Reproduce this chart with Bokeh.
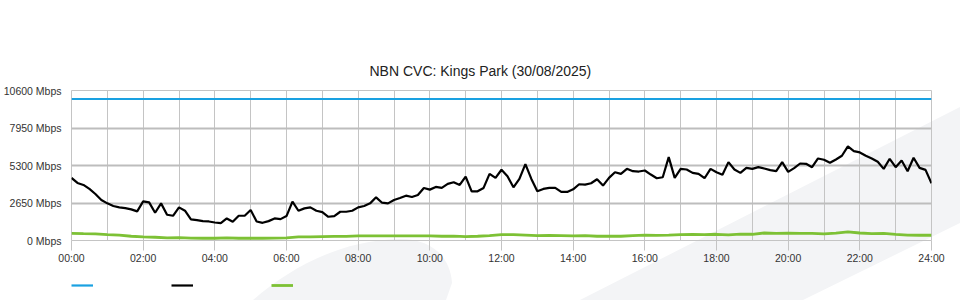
import numpy as np
from urllib.parse import quote
from bokeh.plotting import figure
from bokeh.layouts import column
from bokeh.models import Range1d, FixedTicker, Legend, LegendItem
from bokeh.embed import file_html
from bokeh.resources import INLINE

# ---------------- data ----------------
title_text = "NBN CVC: Kings Park (30/08/2025)"

x_tick_hours = [0, 2, 4, 6, 8, 10, 12, 14, 16, 18, 20, 22, 24]
x_tick_labels = ["00:00", "02:00", "04:00", "06:00", "08:00", "10:00", "12:00",
                 "14:00", "16:00", "18:00", "20:00", "22:00", "24:00"]
y_ticks = [0, 2650, 5300, 7950, 10600]
y_tick_labels = ["0 Mbps", "2650 Mbps", "5300 Mbps", "7950 Mbps", "10600 Mbps"]

# capacity (blue), Mbps
capacity_hours = [0, 24]
capacity_mbps = [10000, 10000]

# download (black), Mbps, every 10 minutes from 00:00 to 24:00
download_mbps = [
    4424, 4069, 3927, 3643, 3287, 2861,
    2624, 2435, 2340, 2293, 2198, 2056,
    2766, 2695, 1961, 2624, 1819, 1748,
    2340, 2103, 1487, 1440, 1369, 1345,
    1274, 1227, 1558, 1322, 1748, 1748,
    2151, 1345, 1250, 1369, 1558, 1511,
    1724, 2743, 2103, 2269, 2340, 2103,
    2008, 1677, 1724, 2032, 2032, 2103,
    2340, 2435, 2624, 3050, 2671, 2624,
    2861, 3003, 3169, 3074, 3216, 3714,
    3595, 3785, 3714, 3998, 4116, 3927,
    4519, 3477, 3477, 3714, 4708, 4424,
    5000, 4542, 3761, 4353, 5400, 4353,
    3477, 3643, 3714, 3714, 3430, 3430,
    3619, 3974, 3950, 4045, 4329, 3879,
    4424, 4826, 4708, 5064, 4898, 4874,
    4945, 4661, 4400, 4471, 5890, 4424,
    5064, 5016, 4779, 4708, 4400, 5064,
    4826, 4650, 5537, 5016, 4779, 5135,
    5064, 5182, 5087, 4969, 4898, 5537,
    4850, 5111, 5442, 5419, 5182, 5798,
    5703, 5490, 5727, 5987, 6650, 6319,
    6224, 5987, 5798, 5561, 5064, 5774,
    5182, 5656, 4898, 5845, 5135, 4993,
    4045,
]
download_hours = list(np.arange(len(download_mbps)) / 6.0)

# upload (green), Mbps, every 20 minutes from 00:00 to 24:00
upload_mbps = [
    500, 480, 470, 420, 380, 300, 260, 230, 190, 210, 170, 160,
    160, 190, 160, 160, 160, 170, 190, 250, 260, 280, 290, 290,
    320, 330, 320, 320, 320, 330, 330, 300, 310, 280, 300, 340,
    420, 410, 380, 340, 360, 350, 330, 340, 300, 310, 300, 340,
    380, 360, 380, 420, 430, 420, 440, 400, 450, 440, 530, 500,
    520, 510, 500, 470, 520, 610, 530, 480, 510, 430, 380, 370,
    370,
]
upload_hours = list(np.arange(len(upload_mbps)) / 3.0)

# ---------------- styles ----------------
FONT = "Liberation Sans"
GRID = "#c4c4c4"
BLUE = "#1aa1e1"
BLACK = "#000000"
GREEN = "#7dc135"

bg_svg = (
    "<svg xmlns='http://www.w3.org/2000/svg' width='960' height='300' viewBox='0 0 960 300'>"
    "<path d='M580,300 L960,107 L960,223 L803,300 Z' fill='#f3f4f6'/>"
    "<path d='M253,300 C290,268 340,240 400,239 C430,239 450,255 452,283 L446,300 Z' fill='#f3f4f6'/>"
    "</svg>"
)
bg_uri = "data:image/svg+xml;utf8," + quote(bg_svg)

# ---------------- main chart ----------------
p = figure(
    width=960, height=272,
    output_backend="svg", toolbar_location=None,
    x_range=Range1d(0, 24), y_range=Range1d(0, 10600),
    min_border_left=70, min_border_right=29,
    min_border_top=90, min_border_bottom=32,
    border_fill_alpha=0, background_fill_alpha=0,
    outline_line_color=GRID, outline_line_width=1,
)

p.title.text = title_text
p.title.align = "left"
p.title.offset = 298
p.title.standoff = 24
p.title.text_font = FONT
p.title.text_font_size = "14px"
p.title.text_font_style = "normal"
p.title.text_color = "#222222"

xa = p.xaxis[0]
xa.ticker = FixedTicker(ticks=x_tick_hours, minor_ticks=list(range(25)))
xa.major_label_overrides = {h: l for h, l in zip(x_tick_hours, x_tick_labels)}
xa.axis_line_color = None
xa.major_tick_line_color = GRID
xa.major_tick_out = 10
xa.major_tick_in = 0
xa.minor_tick_line_color = None
xa.minor_tick_out = 0
xa.major_label_standoff = 1
xa.major_label_text_font = FONT
xa.major_label_text_font_size = "10.5px"
xa.major_label_text_color = "#333333"

ya = p.yaxis[0]
ya.ticker = FixedTicker(ticks=y_ticks)
ya.major_label_overrides = {v: l for v, l in zip(y_ticks, y_tick_labels)}
ya.axis_line_color = None
ya.major_tick_line_color = None
ya.major_tick_out = 0
ya.major_tick_in = 0
ya.minor_tick_line_color = None
ya.minor_tick_out = 0
ya.major_label_standoff = 10
ya.major_label_text_font = FONT
ya.major_label_text_font_size = "10.5px"
ya.major_label_text_color = "#333333"

p.xgrid.grid_line_color = GRID
p.xgrid.grid_line_width = 1
p.xgrid.minor_grid_line_color = GRID
p.xgrid.minor_grid_line_width = 1
p.ygrid.grid_line_color = "#bdbdbd"
p.ygrid.grid_line_width = 2

p.line(capacity_hours, capacity_mbps, line_color=BLUE, line_width=2.2)
p.line(upload_hours, upload_mbps, line_color=GREEN, line_width=2.8)
p.line(download_hours, download_mbps, line_color=BLACK, line_width=2.2)

# ---------------- legend strip (symbols only, as in the original) ----------------
# the strip re-plots the same series; its y range lies above all values, so only
# the legend keys are seen. Its frame is aligned with the main frame by the column.
lg = figure(
    width=960, height=28,
    output_backend="svg", toolbar_location=None,
    x_axis_location=None, y_axis_location=None,
    x_range=Range1d(0, 24), y_range=Range1d(20000, 21000),
    min_border=0, min_border_left=0, min_border_right=0,
    min_border_top=0, min_border_bottom=0,
    border_fill_alpha=0, background_fill_alpha=0,
    outline_line_color=None,
)
lg.grid.visible = False
k_cap = lg.line(capacity_hours, capacity_mbps, line_color=BLUE, line_width=2.2)
k_down = lg.line(download_hours, download_mbps, line_color=BLACK, line_width=2.2)
k_up = lg.line(upload_hours, upload_mbps, line_color=GREEN, line_width=2.8)
legend = Legend(
    items=[LegendItem(label=" ", renderers=[k_cap]),
           LegendItem(label=" ", renderers=[k_down]),
           LegendItem(label=" ", renderers=[k_up])],
    orientation="horizontal", location=(0, 9),
    glyph_width=22, glyph_height=12, label_standoff=0, label_width=78,
    spacing=0, padding=0, margin=0,
    border_line_color=None, background_fill_alpha=0,
    label_text_font=FONT, label_text_font_size="11px",
)
lg.add_layout(legend, "center")

layout = column(p, lg, spacing=0,
                styles={"background-image": f"url(\"{bg_uri}\")",
                        "background-repeat": "no-repeat",
                        "background-size": "960px 300px",
                        "background-position": "0 0"})

open("out.html", "w").write(file_html(layout, INLINE))
